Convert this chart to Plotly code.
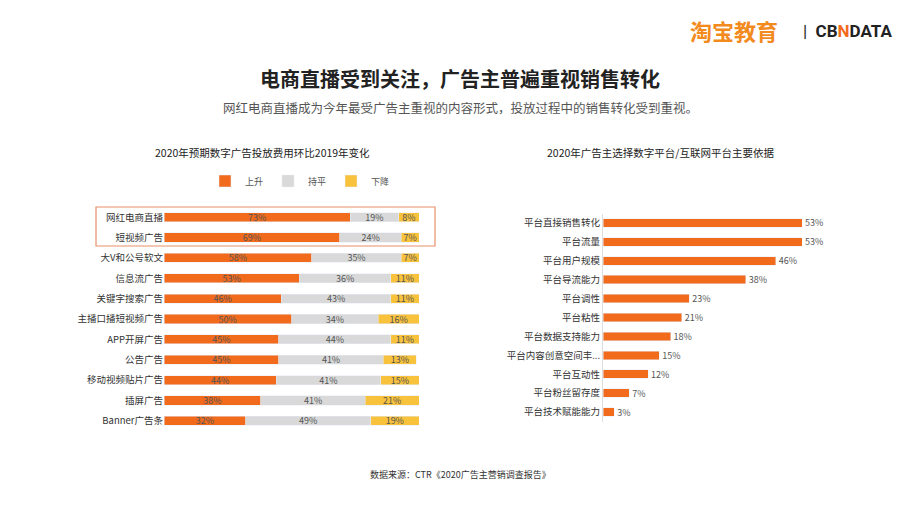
import plotly.graph_objects as go

cats_l = ["网红电商直播","短视频广告","大V和公号软文","信息流广告","关键字搜索广告","主播口播短视频广告","APP开屏广告","公告广告","移动视频贴片广告","插屏广告","Banner广告条"]
up = [73,69,58,53,46,50,45,45,44,38,32]
flat = [19,24,35,36,43,34,44,41,41,41,49]
down = [8,7,7,11,11,16,11,13,15,21,19]

cats_r = ["平台直接销售转化","平台流量","平台用户规模","平台导流能力","平台调性","平台粘性","平台数据支持能力","平台内容创意空间丰...","平台互动性","平台粉丝留存度","平台技术赋能能力"]
vals_r = [53,53,46,38,23,21,18,15,12,7,3]

fig = go.Figure()
for name, vals, col in [("上升", up, "#F26B1D"), ("持平", flat, "#D9D9D9"), ("下降", down, "#F9C23C")]:
    fig.add_trace(go.Bar(y=cats_l, x=vals, name=name, orientation="h", marker_color=col,
                         text=[f"{v}%" for v in vals], textposition="inside", insidetextanchor="middle",
                         constraintext="none", textangle=0,
                         textfont=dict(size=9, color="#555"), width=0.45, xaxis="x", yaxis="y"))
fig.add_trace(go.Bar(y=cats_r, x=vals_r, orientation="h", marker_color="#F26B1D", showlegend=False,
                     text=[f"{v}%" for v in vals_r], textposition="outside", cliponaxis=False,
                     constraintext="none",
                     textfont=dict(size=9, color="#555"), width=0.45, xaxis="x2", yaxis="y2"))

font = "Noto Sans CJK SC"
def A(text, x, y, size, color="#222", **kw):
    return dict(text=text, x=x/920, y=1-y/518, xref="paper", yref="paper", xanchor="center", yanchor="middle",
                showarrow=False, font=dict(size=size, color=color, **kw))

fig.update_layout(
    width=920, height=518, margin=dict(l=0, r=0, t=0, b=0, autoexpand=False), barmode="stack",
    plot_bgcolor="white", paper_bgcolor="white", font=dict(family=font, color="#333"),
    uniformtext=dict(minsize=9, mode="show"),
    xaxis=dict(domain=[164/920, 419/920], range=[0, 100], visible=False),
    yaxis=dict(domain=[1-431/518, 1-207/518], autorange="reversed", tickfont=dict(size=9.5), ticks="",
               showline=False, automargin=False),
    xaxis2=dict(domain=[603/920, 802/920], range=[0, 53], visible=False),
    yaxis2=dict(domain=[1-421.5/518, 1-213.5/518], autorange="reversed", tickfont=dict(size=9.5), anchor="x2",
                showline=True, linecolor="#ddd", ticks="", automargin=False),
    legend=dict(orientation="h", x=205/920, y=1-181/518, xanchor="left", yanchor="middle",
                font=dict(size=9, color="#555"), itemwidth=30, traceorder="normal"),
    bargap=0.5,
    shapes=[dict(type="rect", xref="paper", yref="paper", x0=96/920, x1=435/920, y0=1-246/518, y1=1-207/518,
                 line=dict(color="#E8906A", width=1.2))],
    annotations=[
        A("<b>电商直播受到关注，广告主普遍重视销售转化</b>", 460, 78, 20),
        A("网红电商直播成为今年最受广告主重视的内容形式，投放过程中的销售转化受到重视。", 460, 107, 12.5, "#555"),
        A("2020年预期数字广告投放费用环比2019年变化", 262, 153, 10.5),
        A("2020年广告主选择数字平台/互联网平台主要依据", 660, 153, 10.5),
        A("数据来源：CTR《2020广告主营销调查报告》", 460, 474, 9, "#333"),
        A("<b>淘宝教育</b>", 734, 30, 22, "#F28A1E"),
        A("|  <b>CB<span style='color:#F26B1D'>N</span>DATA</b>", 848, 31, 17, "#222", family="Roboto"),
    ],
)
fig.write_html("out.html", config={"displayModeBar": False},
               post_script="document.body.style.margin='0';document.body.style.padding='0';window.dispatchEvent(new Event('resize'));")
